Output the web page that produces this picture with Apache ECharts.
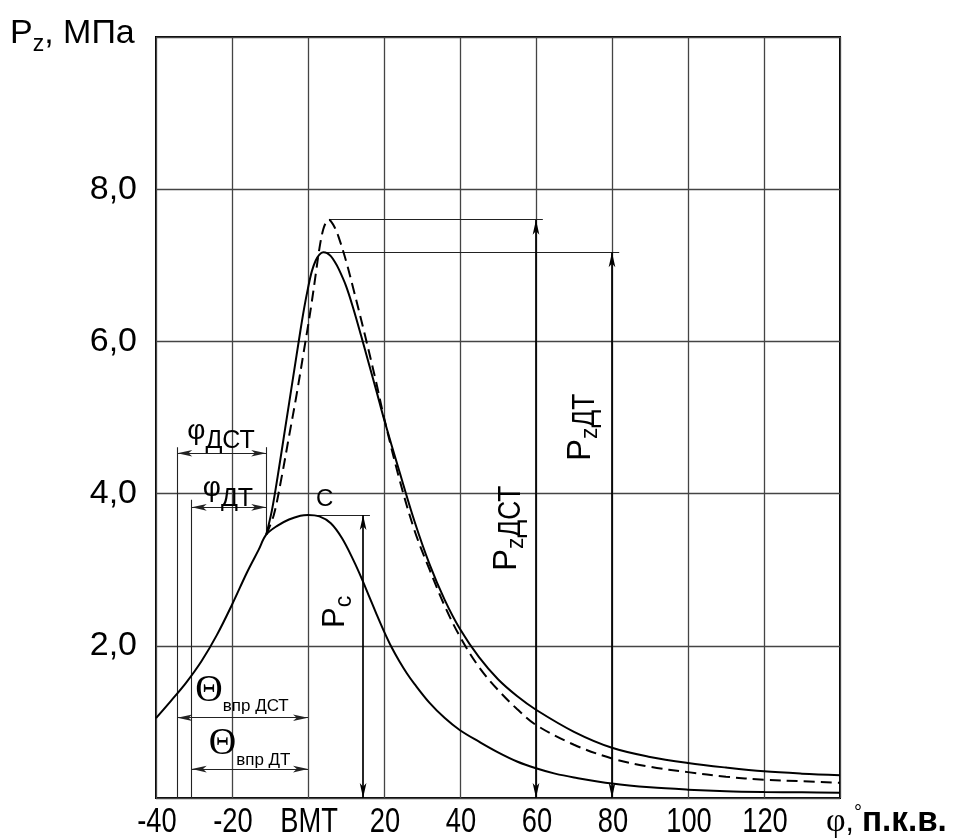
<!DOCTYPE html>
<html>
<head>
<meta charset="utf-8">
<script src="https://cdn.jsdelivr.net/npm/echarts@6/dist/echarts.min.js"></script>
<style>
  html, body { margin: 0; padding: 0; background: #fff; }
  #chart { width: 957px; height: 840px; }
</style>
</head>
<body>
<div id="chart"></div>
<script>
// Crank-angle axis (degrees) and its tick captions
const xTicks = [-40, -20, 0, 20, 40, 60, 80, 100, 120, 140];
const xTickLabels = ['-40', '-20', 'ВМТ', '20', '40', '60', '80', '100', '120', ''];
// Pressure axis (MPa) and its tick captions
const yTicks = [0, 2, 4, 6, 8, 10];
const yTickLabels = ['', '2,0', '4,0', '6,0', '8,0', ''];

// Compression (motoring) pressure P_c
const phiC = [-40, -36, -32, -28, -24, -20, -16, -13, -11, -8, -5, -2, 0, 3, 6, 9, 12, 14, 16, 18,
  20, 22, 24, 26, 28, 32, 36, 40, 45, 50, 55, 60, 65, 70, 80, 90, 100, 110, 120, 130, 140];
const pC = [1.05, 1.28, 1.52, 1.80, 2.14, 2.54, 2.97, 3.26, 3.46, 3.58, 3.66, 3.71, 3.72, 3.70, 3.61, 3.41, 3.12, 2.90, 2.66, 2.42,
  2.19, 1.98, 1.80, 1.64, 1.50, 1.25, 1.05, 0.89, 0.74, 0.60, 0.48, 0.39, 0.32, 0.27, 0.19, 0.14, 0.11, 0.09, 0.08, 0.075, 0.07];

// Cylinder pressure, diesel fuel (ДТ) — solid line
const phiDT = [-11, -9.5, -8, -6, -4, -2, -1, 0, 1, 2, 3, 4, 5, 6, 7, 8, 10, 12, 14, 16,
  18, 20, 24, 28, 32, 36, 40, 45, 50, 55, 60, 70, 80, 90, 100, 110, 120, 130, 140];
const pDT = [3.46, 3.78, 4.22, 4.86, 5.50, 6.14, 6.44, 6.70, 6.92, 7.06, 7.14, 7.17, 7.16, 7.12, 7.05, 6.96, 6.73, 6.42, 6.07, 5.71,
  5.35, 4.98, 4.30, 3.64, 3.07, 2.60, 2.22, 1.85, 1.56, 1.34, 1.16, 0.87, 0.66, 0.54, 0.46, 0.40, 0.35, 0.32, 0.30];

// Cylinder pressure, blended fuel (ДСТ) — dashed line
const phiDST = [-11, -9, -7, -5, -3, -1, 0, 1, 2, 3, 4, 5, 5.5, 6, 7, 8, 10, 12, 15, 18,
  20, 24, 28, 32, 36, 40, 45, 50, 55, 60, 70, 80, 90, 100, 110, 120, 130, 140];
const pDST = [3.46, 3.72, 4.20, 4.75, 5.30, 5.90, 6.20, 6.52, 6.87, 7.22, 7.47, 7.59, 7.60, 7.58, 7.50, 7.38, 7.06, 6.68, 6.08, 5.45,
  5.00, 4.20, 3.52, 3.00, 2.52, 2.12, 1.72, 1.42, 1.17, 0.96, 0.70, 0.52, 0.41, 0.34, 0.28, 0.24, 0.22, 0.20];

// Characteristic angles (deg): injection start for each fuel, ignition start
const phiInjDST = -34.4;
const phiInjDT = -30.6;
const phiIgn = -11;
// Angles at which the pressure dimensions are drawn
const phiDimPc = 14.5;
const phiDimPzDST = 60;
const phiDimPzDT = 80;

const zip = (xs, ys) => xs.map((x, i) => [x, ys[i]]);
const peakOf = (xs, ys) => { let k = 0; ys.forEach((v, i) => { if (v > ys[k]) k = i; }); return [xs[k], ys[k]]; };
const peakC = peakOf(phiC, pC);
const peakDT = peakOf(phiDT, pDT);
const peakDST = peakOf(phiDST, pDST);
const pIgn = pC[phiC.indexOf(phiIgn)];

const seg = (a, b) => [{ coord: a }, { coord: b }];

const chart = echarts.init(document.getElementById('chart'), null, { renderer: 'canvas' });

const SANS = '"Liberation Sans", Arial, sans-serif';
const SERIF = '"Liberation Serif", "Times New Roman", serif';

chart.setOption({
  animation: false,
  backgroundColor: '#fff',
  grid: { left: 156, top: 37, right: 117, bottom: 42, show: true, borderColor: '#000', borderWidth: 2, backgroundColor: 'transparent' },
  xAxis: {
    type: 'value', min: -40, max: 140, interval: 20,
    axisLine: { show: false }, axisTick: { show: false },
    splitLine: { show: true, lineStyle: { color: '#444', width: 1.3 } },
    axisLabel: { show: false }
  },
  yAxis: {
    type: 'value', min: 0, max: 10, interval: 2,
    axisLine: { show: false }, axisTick: { show: false },
    splitLine: { show: true, lineStyle: { color: '#444', width: 1.3 } },
    axisLabel: {
      margin: 19, color: '#000', fontSize: 34, fontFamily: SANS,
      formatter: v => { const i = yTicks.indexOf(v); return i >= 0 ? yTickLabels[i] : ''; }
    }
  },
  series: [
    {
      name: 'Pc', type: 'line', data: zip(phiC, pC), smooth: 0.35, showSymbol: false, symbol: 'none',
      lineStyle: { color: '#000', width: 2 }, z: 5
    },
    {
      name: 'PzDT', type: 'line', data: zip(phiDT, pDT), smooth: 0.35, showSymbol: false, symbol: 'none',
      lineStyle: { color: '#000', width: 2 }, z: 5
    },
    {
      name: 'PzDST', type: 'line', data: zip(phiDST, pDST), smooth: 0.35, showSymbol: false, symbol: 'none',
      lineStyle: { color: '#000', width: 2, type: [11, 6] }, z: 5
    },
    {
      // extension and reference lines
      name: 'ext', type: 'line', data: [], z: 4,
      markLine: {
        silent: true, symbol: ['none', 'none'], label: { show: false },
        lineStyle: { color: '#222', width: 1.1, type: 'solid' },
        data: [
          seg([phiInjDST, 0], [phiInjDST, 4.61]),
          seg([phiInjDT, 0], [phiInjDT, 3.92]),
          seg([phiIgn, pIgn], [phiIgn, 4.61]),
          seg([peakC[0], peakC[1]], [16.3, peakC[1]]),
          seg([peakDST[0], peakDST[1]], [61.8, peakDST[1]]),
          seg([peakDT[0], peakDT[1]], [81.9, peakDT[1]])
        ]
      }
    },
    {
      // angle dimensions
      name: 'dimAngle', type: 'line', data: [], z: 4,
      markLine: {
        silent: true, symbol: ['arrow', 'arrow'], symbolSize: [5, 15], label: { show: false },
        lineStyle: { color: '#222', width: 1.1, type: 'solid' },
        data: [
          seg([phiInjDST, 4.53], [phiIgn, 4.53]),
          seg([phiInjDT, 3.82], [phiIgn, 3.82]),
          seg([phiInjDST, 1.055], [0, 1.055]),
          seg([phiInjDT, 0.38], [0, 0.38])
        ]
      }
    },
    {
      // pressure dimensions
      name: 'dimPressure', type: 'line', data: [], z: 4,
      markLine: {
        silent: true, symbol: ['arrow', 'arrow'], symbolSize: [5, 15], label: { show: false },
        lineStyle: { color: '#000', width: 1.7, type: 'solid' },
        data: [
          seg([phiDimPc, 0], [phiDimPc, peakC[1]]),
          seg([phiDimPzDST, 0], [phiDimPzDST, peakDST[1]]),
          seg([phiDimPzDT, 0], [phiDimPzDT, peakDT[1]])
        ]
      }
    }
  ]
});

// ---- text with subscripts (narrow faces drawn by horizontal scaling) ----
const mctx = document.createElement('canvas').getContext('2d');
const fontStr = p => `${p.weight || 'normal'} ${p.size}px ${p.family}`;
const textW = p => { mctx.font = fontStr(p); return mctx.measureText(p.t).width * (p.sx || 1); };

// parts laid out along a baseline starting at (x, y); rot = rotation (CCW, rad)
function run(parts, x, y, rot, align) {
  rot = rot || 0;
  const c = Math.cos(rot), s = Math.sin(rot);
  let adv = 0;
  if (align === 'center') adv = -parts.reduce((a, p) => a + textW(p) + (p.dx || 0), 0) / 2;
  const out = [];
  parts.forEach(p => {
    adv += p.dx || 0;
    const dy = (p.dy || 0) - 0.3 * p.size; // baseline -> middle of line box
    out.push({
      type: 'text', silent: true, rotation: rot, z: 100,
      x: x + adv * c + dy * s,
      y: y - adv * s + dy * c,
      scaleX: p.sx || 1,
      style: { text: p.t, font: fontStr(p), fill: '#000', align: 'left', verticalAlign: 'middle' }
    });
    adv += textW(p);
  });
  return out;
}
const px = (a) => chart.convertToPixel({ gridIndex: 0 }, a);

const g = [];
// x tick captions, placed through the axis scale
xTicks.forEach((v, i) => {
  if (!xTickLabels[i]) return;
  const p = px([v, 0]);
  g.push(...run([{ t: xTickLabels[i], size: 35, family: SANS, sx: 0.78 }], p[0] + 1, p[1] + 35, 0, 'center'));
});
// axis titles
g.push(...run([
  { t: 'P', size: 34, family: SANS },
  { t: 'z', size: 23, family: SANS, dy: 8 },
  { t: ', МПа', size: 34, family: SANS }
], 10, 44));
const ax = px([140, 0]);
g.push(...run([
  { t: 'φ', size: 34, family: SERIF },
  { t: ',', size: 30, family: SANS },
  { t: '°', size: 20, family: SANS, dy: -13 },
  { t: 'п.к.в.', size: 35, family: SANS, weight: 'bold', sx: 0.95 }
], ax[0] - 14, ax[1] + 34));

// phi dimensions
let q = px([phiInjDST, 4.53]);
g.push(...run([
  { t: 'φ', size: 28, family: SANS },
  { t: 'ДСТ', size: 25, family: SANS, dy: 9 }
], q[0] + 10, q[1] - 14));
q = px([phiInjDT, 3.82]);
g.push(...run([
  { t: 'φ', size: 28, family: SANS },
  { t: 'ДТ', size: 25, family: SANS, dy: 10 }
], q[0] + 11, q[1] - 11));

// injection advance dimensions
q = px([phiInjDST, 1.055]);
g.push(...run([
  { t: 'Θ', size: 38, family: SERIF },
  { t: 'впр ДСТ', size: 17, family: SANS, dy: 9 }
], q[0] + 18, q[1] - 15));
q = px([phiInjDT, 0.38]);
g.push(...run([
  { t: 'Θ', size: 38, family: SERIF },
  { t: 'впр ДТ', size: 17, family: SANS, dy: 10 }
], q[0] + 17, q[1] - 14));

// point C and pressure labels
q = px(peakC);
g.push(...run([{ t: 'С', size: 24, family: SANS }], q[0] + 8, q[1] - 8));
q = px([phiDimPc, 0]);
g.push(...run([
  { t: 'P', size: 31, family: SANS },
  { t: 'c', size: 23, family: SANS, dy: 6 }
], q[0] - 18, 628, Math.PI / 2));
q = px([phiDimPzDST, 0]);
g.push(...run([
  { t: 'P', size: 33, family: SANS },
  { t: 'z', size: 23, family: SANS, dy: 7 },
  { t: 'ДСТ', size: 32, family: SANS, dy: 4, sx: 0.82 }
], q[0] - 19, 571, Math.PI / 2));
q = px([phiDimPzDT, 0]);
g.push(...run([
  { t: 'P', size: 33, family: SANS },
  { t: 'z', size: 23, family: SANS, dy: 7 },
  { t: 'ДТ', size: 32, family: SANS, dy: 4, sx: 0.82 }
], q[0] - 21, 461, Math.PI / 2));

chart.setOption({ graphic: g });
</script>
</body>
</html>
